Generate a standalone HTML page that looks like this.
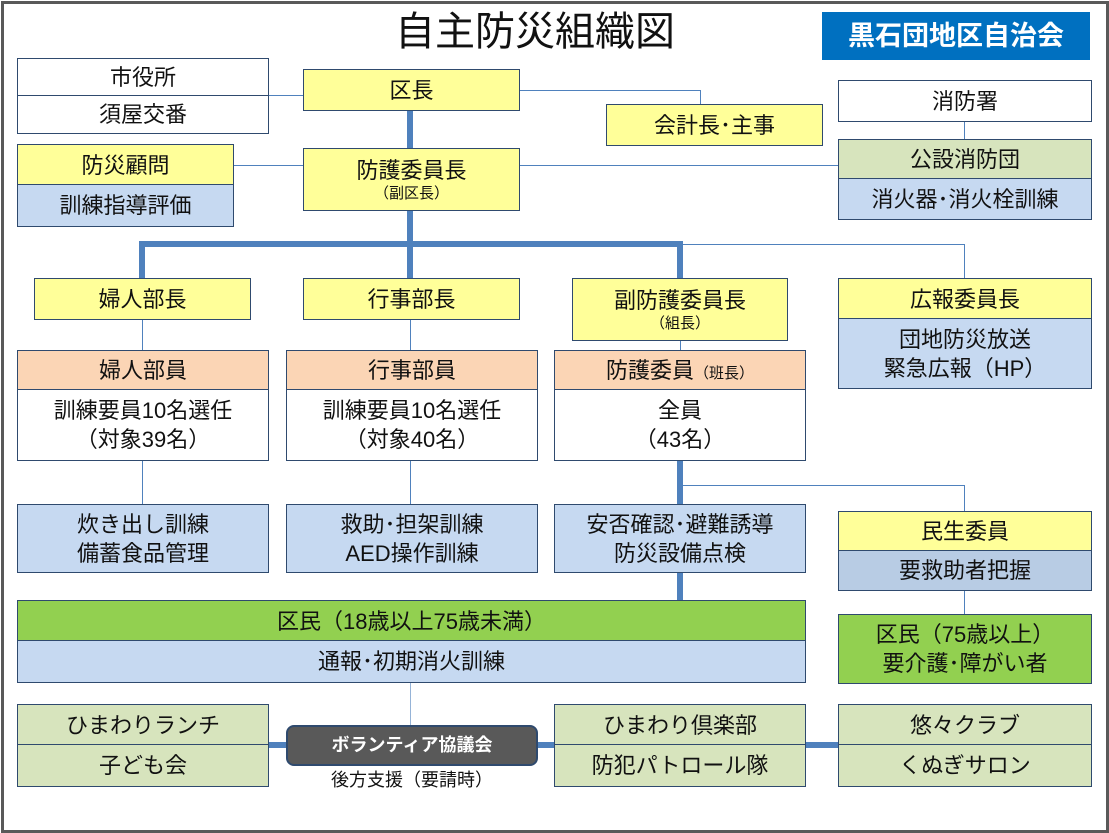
<!DOCTYPE html>
<html><head><meta charset="utf-8"><style>
body{margin:0;width:1109px;height:833px;background:#fff;position:relative;overflow:hidden;font-family:"Liberation Sans","Noto Sans CJK JP",sans-serif;color:#111}
.frame{position:absolute;left:1px;top:1px;width:1102px;height:826px;border:3px solid #595959}
.b{position:absolute;box-sizing:border-box;border:1.5px solid #2f4a6e;display:flex;flex-direction:column;align-items:center;justify-content:center;text-align:center;font-size:22px;line-height:29px}
.y{background:#ffff99}.bl{background:#c6d9f1}.p{background:#fbd5b5}.g{background:#92d050}.lg{background:#d7e4bd}.w{background:#fff}.bd{background:#b8cce4}
.s{font-size:15px;line-height:18px}
.l{position:absolute;background:#4f81bd}
</style></head><body>
<div class="frame"></div>
<div style="position:absolute;left:330px;top:7px;width:410px;text-align:center;font-size:40px;line-height:50px">自主防災組織図</div>
<div style="position:absolute;left:822px;top:12px;width:268px;height:48px;background:#0070c0;color:#fff;font-weight:bold;font-size:27px;line-height:48px;text-align:center">黒石団地区自治会</div>

<div class="l" style="left:268px;top:95px;width:36px;height:1px"></div>
<div class="l" style="left:519px;top:90px;width:181px;height:1px"></div>
<div class="l" style="left:700px;top:90px;width:1px;height:14px"></div>
<div class="l" style="left:233px;top:165px;width:70px;height:1px"></div>
<div class="l" style="left:519px;top:165px;width:319px;height:1px"></div>
<div class="l" style="left:964px;top:121px;width:1px;height:18px"></div>
<div class="l" style="left:680px;top:244px;width:285px;height:1px"></div>
<div class="l" style="left:964px;top:244px;width:1px;height:34px"></div>
<div class="l" style="left:142px;top:319px;width:1px;height:31px"></div>
<div class="l" style="left:410px;top:319px;width:1px;height:31px"></div>
<div class="l" style="left:680px;top:340px;width:1px;height:10px"></div>
<div class="l" style="left:142px;top:460px;width:1px;height:44px"></div>
<div class="l" style="left:410px;top:460px;width:1px;height:44px"></div>
<div class="l" style="left:680px;top:485px;width:285px;height:1px"></div>
<div class="l" style="left:964px;top:485px;width:1px;height:26px"></div>
<div class="l" style="left:964px;top:590px;width:1px;height:24px"></div>
<div class="l" style="left:410px;top:682px;width:1px;height:44px;background:#95b3d7"></div>
<div class="l" style="left:407px;top:110px;width:6px;height:38px"></div>
<div class="l" style="left:407px;top:210px;width:6px;height:68px"></div>
<div class="l" style="left:139px;top:241px;width:544px;height:6px"></div>
<div class="l" style="left:139px;top:241px;width:6px;height:37px"></div>
<div class="l" style="left:677px;top:241px;width:6px;height:37px"></div>
<div class="l" style="left:677px;top:460px;width:6px;height:44px"></div>
<div class="l" style="left:677px;top:572px;width:6px;height:28px"></div>
<div class="l" style="left:268px;top:742px;width:570px;height:6px"></div>

<div class="b w" style="left:17px;top:58px;width:252px;height:39px">市役所</div>
<div class="b w" style="left:17px;top:95px;width:252px;height:39px">須屋交番</div>
<div class="b y" style="left:303px;top:69px;width:217px;height:42px">区長</div>
<div class="b y" style="left:606px;top:104px;width:217px;height:42px">会計長･主事</div>
<div class="b w" style="left:838px;top:80px;width:254px;height:42px">消防署</div>
<div class="b lg" style="left:838px;top:139px;width:254px;height:41px">公設消防団</div>
<div class="b bl" style="left:838px;top:178px;width:254px;height:42px">消火器･消火栓訓練</div>
<div class="b y" style="left:17px;top:144px;width:217px;height:42px">防災顧問</div>
<div class="b bl" style="left:17px;top:184px;width:217px;height:43px">訓練指導評価</div>
<div class="b y" style="left:303px;top:148px;width:217px;height:63px">防護委員長<span class="s">（副区長）</span></div>

<div class="b y" style="left:34px;top:278px;width:217px;height:42px">婦人部長</div>
<div class="b y" style="left:303px;top:278px;width:217px;height:42px">行事部長</div>
<div class="b y" style="left:572px;top:278px;width:216px;height:63px">副防護委員長<span class="s">（組長）</span></div>
<div class="b y" style="left:838px;top:278px;width:254px;height:42px">広報委員長</div>
<div class="b bl" style="left:838px;top:318px;width:254px;height:71px">団地防災放送<br>緊急広報（HP）</div>

<div class="b p" style="left:17px;top:350px;width:252px;height:41px">婦人部員</div>
<div class="b w" style="left:17px;top:389px;width:252px;height:72px">訓練要員10名選任<br>（対象39名）</div>
<div class="b p" style="left:286px;top:350px;width:252px;height:41px">行事部員</div>
<div class="b w" style="left:286px;top:389px;width:252px;height:72px">訓練要員10名選任<br>（対象40名）</div>
<div class="b p" style="left:554px;top:350px;width:252px;height:41px"><span>防護委員<span class="s">（班長）</span></span></div>
<div class="b w" style="left:554px;top:389px;width:252px;height:72px">全員<br>（43名）</div>

<div class="b bl" style="left:17px;top:504px;width:252px;height:69px">炊き出し訓練<br>備蓄食品管理</div>
<div class="b bl" style="left:286px;top:504px;width:252px;height:69px">救助･担架訓練<br>AED操作訓練</div>
<div class="b bl" style="left:554px;top:504px;width:252px;height:69px">安否確認･避難誘導<br>防災設備点検</div>
<div class="b y" style="left:838px;top:511px;width:254px;height:41px">民生委員</div>
<div class="b bd" style="left:838px;top:550px;width:254px;height:41px">要救助者把握</div>

<div class="b g" style="left:17px;top:600px;width:789px;height:42px">区民（18歳以上75歳未満）</div>
<div class="b bl" style="left:17px;top:640px;width:789px;height:43px">通報･初期消火訓練</div>
<div class="b g" style="left:838px;top:614px;width:254px;height:70px">区民（75歳以上）<br>要介護･障がい者</div>

<div class="b lg" style="left:17px;top:704px;width:252px;height:42px">ひまわりランチ</div>
<div class="b lg" style="left:17px;top:744px;width:252px;height:43px">子ども会</div>
<div class="b lg" style="left:554px;top:704px;width:252px;height:42px">ひまわり倶楽部</div>
<div class="b lg" style="left:554px;top:744px;width:252px;height:43px">防犯パトロール隊</div>
<div class="b lg" style="left:838px;top:704px;width:254px;height:42px">悠々クラブ</div>
<div class="b lg" style="left:838px;top:744px;width:254px;height:43px">くぬぎサロン</div>
<div class="b" style="left:286px;top:725px;width:252px;height:41px;background:#595959;color:#fff;border:2px solid #2f4a6e;border-radius:8px;font-size:18px;font-weight:bold">ボランティア協議会</div>
<div style="position:absolute;left:286px;top:768px;width:252px;text-align:center;font-size:18px;line-height:24px">後方支援（要請時）</div>
</body></html>
